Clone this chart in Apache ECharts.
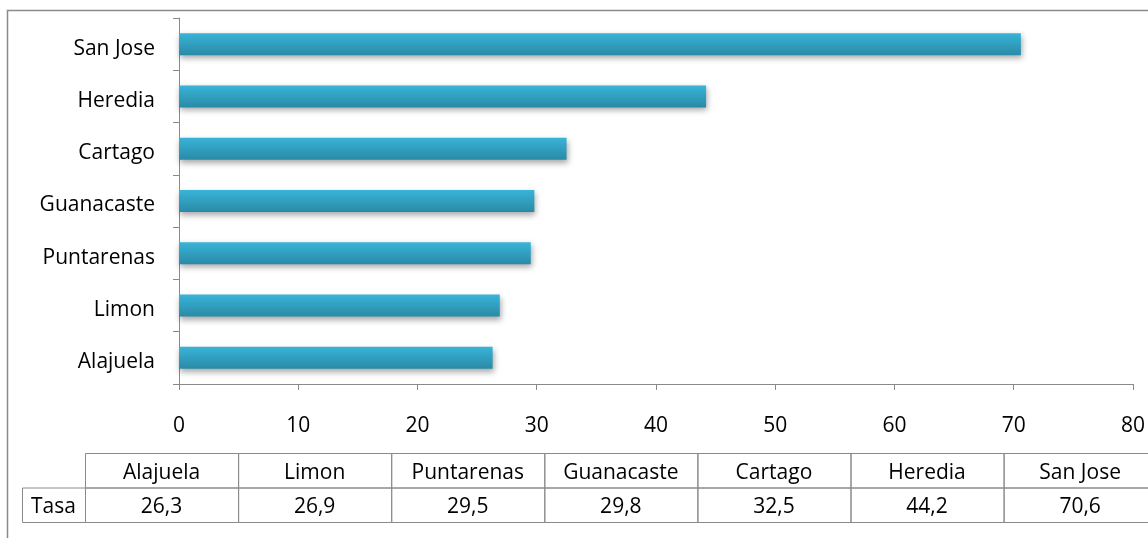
<!DOCTYPE html>
<html>
<head>
<meta charset="utf-8">
<script src="https://cdn.jsdelivr.net/npm/echarts@6/dist/echarts.min.js"></script>
<style>
  html, body { margin: 0; padding: 0; background: #ffffff; }
  #chart { width: 1148px; height: 538px; }
</style>
</head>
<body>
<div id="chart"></div>
<script>
// Provinces (bottom to top on the category axis) and their rates
const provinces = ['Alajuela', 'Limon', 'Puntarenas', 'Guanacaste', 'Cartago', 'Heredia', 'San Jose'];
const tasa = [26.3, 26.9, 29.5, 29.8, 32.5, 44.2, 70.6];
const rowLabel = 'Tasa';
const xTicks = [0, 10, 20, 30, 40, 50, 60, 70, 80];

const FONT = '"Open Sans", Lato, sans-serif';
const FS = 21;
const LINE = '#8a8a8a';

const chart = echarts.init(document.getElementById('chart'), null, { renderer: 'canvas' });

// Data table under the chart, built from the same arrays
const tableLeft = 85, colW = 153.1, headTop = 453, rowH = 34.5, firstColLeft = 22;
const tableGraphics = [];
const fmt = v => v.toFixed(1).replace('.', ',');
provinces.forEach((p, i) => {
  const x = tableLeft + i * colW;
  tableGraphics.push({
    type: 'rect', shape: { x: x + 0.5, y: headTop + 0.5, width: colW, height: rowH },
    style: { fill: 'none', stroke: LINE, lineWidth: 1 }, silent: true
  });
  tableGraphics.push({
    type: 'rect', shape: { x: x + 0.5, y: headTop + rowH + 0.5, width: colW, height: rowH },
    style: { fill: 'none', stroke: LINE, lineWidth: 1 }, silent: true
  });
  tableGraphics.push({
    type: 'text', x: x + colW / 2, y: headTop + rowH / 2 + 2.5,
    style: { text: p, font: FS + 'px ' + FONT, fill: '#000', align: 'center', verticalAlign: 'middle' }, silent: true
  });
  tableGraphics.push({
    type: 'text', x: x + colW / 2, y: headTop + rowH * 1.5 + 2,
    style: { text: fmt(tasa[i]), font: FS + 'px ' + FONT, fill: '#000', align: 'center', verticalAlign: 'middle' }, silent: true
  });
});
tableGraphics.push({
  type: 'rect', shape: { x: firstColLeft + 0.5, y: headTop + rowH + 0.5, width: tableLeft - firstColLeft, height: rowH },
  style: { fill: 'none', stroke: LINE, lineWidth: 1 }, silent: true
});
tableGraphics.push({
  type: 'text', x: (firstColLeft + tableLeft) / 2, y: headTop + rowH * 1.5 + 2,
  style: { text: rowLabel, font: FS + 'px ' + FONT, fill: '#000', align: 'center', verticalAlign: 'middle' }, silent: true
});

const option = {
  backgroundColor: '#ffffff',
  animation: false,
  grid: { left: 179, right: 15, top: 18, bottom: 154, containLabel: false },
  xAxis: {
    type: 'value',
    min: xTicks[0], max: xTicks[xTicks.length - 1], interval: 10,
    axisLine: { show: true, lineStyle: { color: LINE, width: 1 } },
    axisTick: { show: true, length: 6, inside: false, lineStyle: { color: LINE } },
    axisLabel: { color: '#000', fontSize: FS, fontFamily: FONT, margin: 32 },
    splitLine: { show: false }
  },
  yAxis: {
    type: 'category',
    data: provinces,
    boundaryGap: true,
    axisLine: { show: true, lineStyle: { color: LINE, width: 1 } },
    axisTick: { show: true, length: 6, alignWithLabel: false, lineStyle: { color: LINE } },
    axisLabel: {
      margin: 24,
      formatter: v => '{p|' + v + '}',
      rich: { p: { color: '#000', fontSize: FS, fontFamily: FONT, padding: [9, 0, 0, 0] } }
    }
  },
  series: [{
    type: 'bar',
    data: tasa,
    barWidth: 22,
    itemStyle: {
      color: new echarts.graphic.LinearGradient(0, 0, 0, 1, [
        { offset: 0, color: '#38b4d8' },
        { offset: 1, color: '#2a8aa6' }
      ]),
      shadowColor: 'rgba(0,0,0,0.35)',
      shadowBlur: 6,
      shadowOffsetX: 1,
      shadowOffsetY: 3
    }
  }],
  graphic: [
    {
      type: 'rect', shape: { x: 7.5, y: 10.5, width: 1300, height: 700 },
      style: { fill: 'none', stroke: LINE, lineWidth: 1.5 }, silent: true, z: -1
    }
  ].concat(tableGraphics)
};

chart.setOption(option);
</script>
</body>
</html>
